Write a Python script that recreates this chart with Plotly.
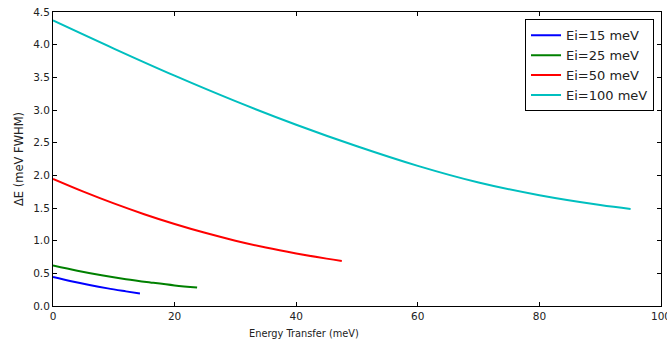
import plotly.graph_objects as go

# Data
x_15 = [0, 3, 6, 9, 12, 14.3]
y_15 = [0.445, 0.38, 0.322, 0.27, 0.224, 0.19]

x_25 = [0, 4, 8, 12, 16, 20, 23.7]
y_25 = [0.62, 0.54, 0.47, 0.41, 0.36, 0.315, 0.285]

x_50 = [0, 5, 10, 15, 20, 25, 30, 35, 40, 45, 47.5]
y_50 = [1.945, 1.75, 1.57, 1.405, 1.255, 1.12, 1.0, 0.895, 0.805, 0.725, 0.69]

x_100 = [0, 10, 20, 30, 40, 50, 60, 70, 80, 90, 95]
y_100 = [4.37, 3.94, 3.525, 3.135, 2.775, 2.445, 2.145, 1.89, 1.695, 1.545, 1.485]

names = ["Ei=15 meV", "Ei=25 meV", "Ei=50 meV", "Ei=100 meV"]
colors = ["#0000ff", "#008000", "#ff0000", "#00bfbf"]
series = [(x_15, y_15), (x_25, y_25), (x_50, y_50), (x_100, y_100)]

fig = go.Figure()
for (xs, ys), name, c in zip(series, names, colors):
    fig.add_trace(go.Scatter(x=xs, y=ys, mode="lines", name=name,
                             line=dict(color=c, width=2, shape="spline", smoothing=1)))

font = "DejaVu Sans, sans-serif"
axis_common = dict(showline=True, linecolor="black", linewidth=1, mirror="allticks",
                   ticks="inside", ticklen=4, tickcolor="black", showgrid=False,
                   zeroline=False, tickfont=dict(family=font, size=10.5, color="#222"),
                   automargin=False, ticklabeloverflow="allow")

fig.update_layout(
    width=667, height=345,
    margin=dict(l=53, r=6, t=12, b=39),
    paper_bgcolor="white", plot_bgcolor="white",
    font=dict(family=font, color="#222"),
    showlegend=True,
    legend=dict(x=0.9885, y=0.975, xanchor="right", yanchor="top",
                bordercolor="black", borderwidth=1, bgcolor="white",
                font=dict(family=font, size=13, color="#222"),
                tracegroupgap=0),
    xaxis=dict(range=[0, 100], dtick=20, tick0=0, **axis_common),
    yaxis=dict(range=[0, 4.5], dtick=0.5, tick0=0, tickformat=".1f",
               title=dict(text="ΔE (meV FWHM)", standoff=7,
                          font=dict(family=font, size=11.5, color="#222")),
               **axis_common),
    annotations=[dict(text="Energy Transfer (meV)", xref="paper", yref="paper",
                      x=(304 - 53) / 608, y=-(333 - 306) / 294,
                      xanchor="center", yanchor="middle", showarrow=False,
                      font=dict(family=font, size=9.8, color="#222"))],
)

fig.write_html("out.html")
